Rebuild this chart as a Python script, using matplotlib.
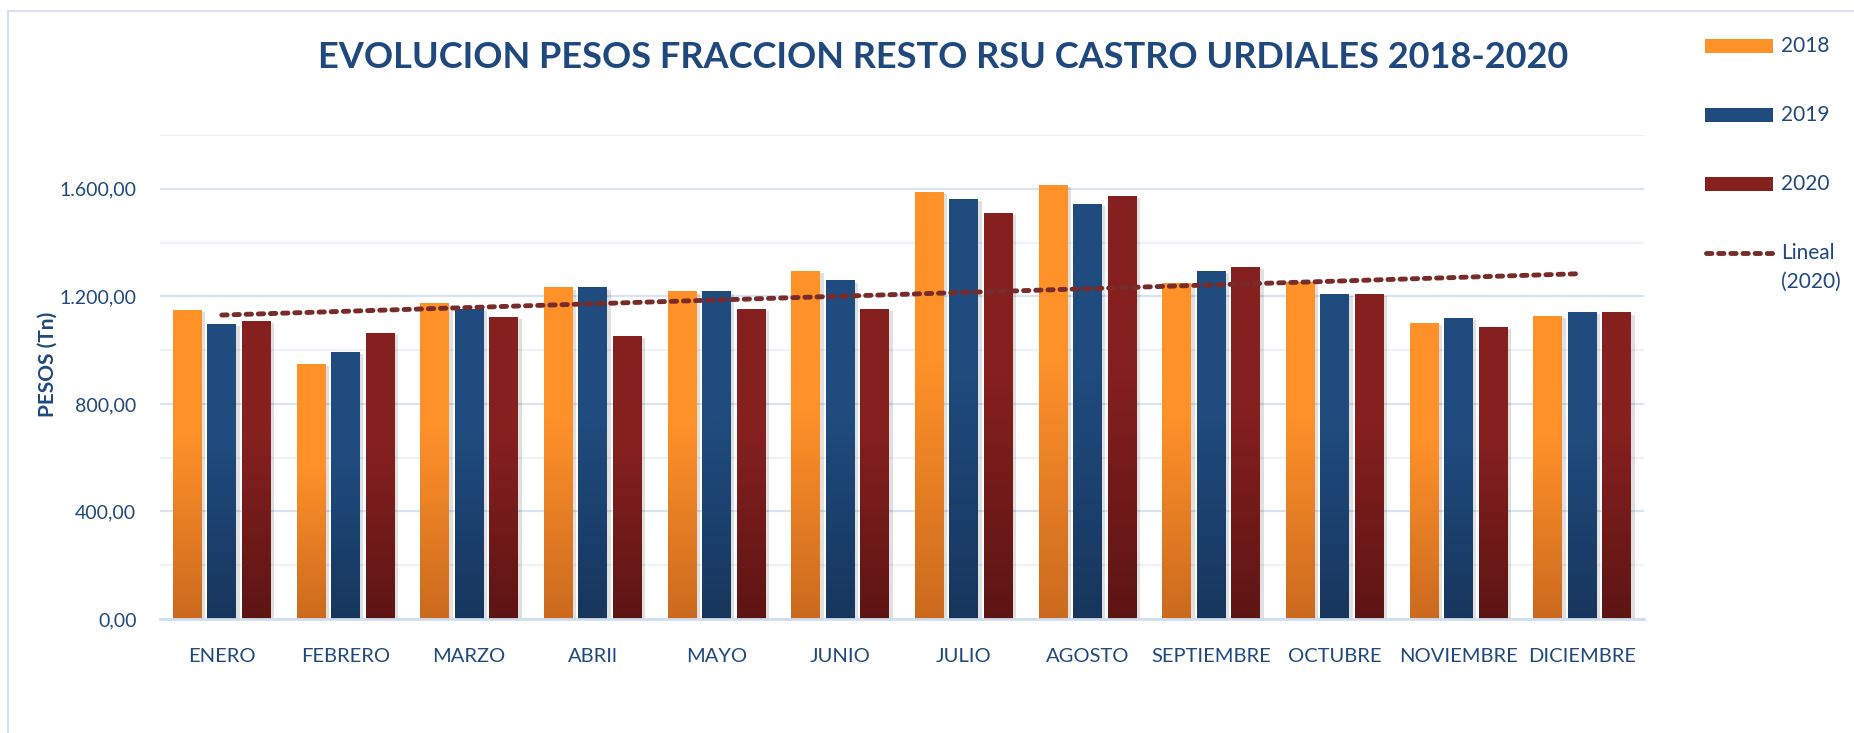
import numpy as np
import matplotlib
matplotlib.use("Agg")
import matplotlib.pyplot as plt
from matplotlib.colors import LinearSegmentedColormap
from matplotlib.lines import Line2D
from matplotlib.patches import Rectangle
from matplotlib.ticker import FuncFormatter, MultipleLocator
import matplotlib.patheffects as pe

plt.rcParams['font.family'] = ['Lato', 'DejaVu Sans']

meses = ["ENERO", "FEBRERO", "MARZO", "ABRIl", "MAYO", "JUNIO", "JULIO",
         "AGOSTO", "SEPTIEMBRE", "OCTUBRE", "NOVIEMBRE", "DICIEMBRE"]
anios = ["2018", "2019", "2020"]
pesos_2018 = [1151, 949, 1177, 1233, 1218, 1296, 1588, 1614, 1248, 1255, 1102, 1128]
pesos_2019 = [1098, 994, 1154, 1233, 1218, 1259, 1561, 1543, 1293, 1210, 1121, 1143]
pesos_2020 = [1110, 1065, 1125, 1054, 1154, 1154, 1509, 1573, 1308, 1210, 1087, 1140]

# (bottom colour, top colour) of each series gradient
colores = [("#CB6A1E", "#FF9129"), ("#17365D", "#1F4B7E"), ("#5D1514", "#85201F")]
azul = "#1F497D"
gris_azul = "#D6E2F2"

W, H = 1854, 733
fig = plt.figure(figsize=(W / 100, H / 100), dpi=100)

def fx(px):
    return px / W

def fy(py):
    return 1 - py / H

ax = fig.add_axes([fx(160), fy(619), fx(1644) - fx(160), fy(135) - fy(619)])

x = np.arange(1, len(meses) + 1)
paso = 0.279
ancho = 0.234
series = [pesos_2018, pesos_2019, pesos_2020]

grad = np.linspace(0, 1, 256).reshape(-1, 1)
for i, vals in enumerate(series):
    c0, c1 = colores[i]
    cmap = LinearSegmentedColormap.from_list("g%d" % i, [(0, c0), (0.6, c1), (1, c1)])
    barras = ax.bar(x + (i - 1) * paso, vals, width=ancho, color=c0, zorder=3,
                    path_effects=[pe.SimplePatchShadow(offset=(2.5, -1.5), shadow_rgbFace="#000000", alpha=0.12),
                                  pe.Normal()])
    for b in barras:
        x0, w, h = b.get_x(), b.get_width(), b.get_height()
        im = ax.imshow(grad, extent=[x0, x0 + w, 0, h], origin="lower", aspect="auto",
                       cmap=cmap, zorder=3.5, interpolation="bilinear")
        im.set_clip_path(b)

# linear trend of 2020
m, c = np.polyfit(x, pesos_2020, 1)
ax.plot(x, m * x + c, color="#772C2A", lw=3.5, linestyle=(0, (1.1, 1.4)),
        dash_capstyle="round", zorder=5)

ax.set_xlim(0.5, 12.5)
ax.set_ylim(0, 1800)
ax.yaxis.set_major_locator(MultipleLocator(400))
ax.yaxis.set_minor_locator(MultipleLocator(200))
ax.yaxis.set_major_formatter(FuncFormatter(
    lambda v, p: "{:,.2f}".format(v).replace(",", "X").replace(".", ",").replace("X", ".")))
ax.grid(axis="y", which="major", color="#D9E4F3", lw=1.6, zorder=0)
ax.grid(axis="y", which="minor", color="#EEF3FA", lw=1.6, zorder=0)
ax.set_axisbelow(True)
for s in ["top", "right", "left"]:
    ax.spines[s].set_visible(False)
ax.spines["bottom"].set_color("#D0DEF0")
ax.spines["bottom"].set_linewidth(2)
ax.spines["bottom"].set_zorder(6)
ax.set_xticks(x)
ax.set_xticklabels(meses)
ax.tick_params(axis="both", which="both", length=0, labelsize=14, labelcolor=azul)
ax.tick_params(axis="x", pad=21, labelsize=14.5)
ax.tick_params(axis="y", pad=17)
ax.set_ylabel("PESOS (Tn)", fontsize=15, fontweight="bold", color=azul)
ax.yaxis.set_label_coords(fx(32) - fx(160), (fy(364) - fy(619)) / (fy(135) - fy(619)))

fig.text(fx(943), fy(57), "EVOLUCION PESOS FRACCION RESTO RSU CASTRO URDIALES 2018-2020",
         fontsize=26, fontweight="bold", color=azul, ha="center", va="center")

# chart frame
fig.add_artist(Line2D([fx(8), fx(8)], [fy(10.7), 0], color=gris_azul, lw=1.5))
fig.add_artist(Line2D([fx(8), 1], [fy(10.7), fy(10.7)], color=gris_azul, lw=1.5))

# legend
for i, anio in enumerate(anios):
    yc = 46 + i * 69
    c0, c1 = colores[i]
    fig.add_artist(Rectangle((fx(1705), fy(yc + 6.5)), fx(1773) - fx(1705), fy(yc - 6.5) - fy(yc + 6.5),
                             facecolor=c1, edgecolor="none", transform=fig.transFigure))
    fig.text(fx(1781), fy(yc), anio, fontsize=15, color=azul, va="center", ha="left")
yl = 46 + 3 * 69
fig.add_artist(Line2D([fx(1706), fx(1774)], [fy(yl), fy(yl)], color="#772C2A", lw=3.5,
                      linestyle=(0, (1.1, 1.4)), dash_capstyle="round"))
fig.text(fx(1781), fy(yl), "Lineal", fontsize=15, color=azul, va="center", ha="left")
fig.text(fx(1781), fy(yl + 29), "(2020)", fontsize=15, color=azul, va="center", ha="left")

fig.savefig("out.png", dpi=100, facecolor="white")
